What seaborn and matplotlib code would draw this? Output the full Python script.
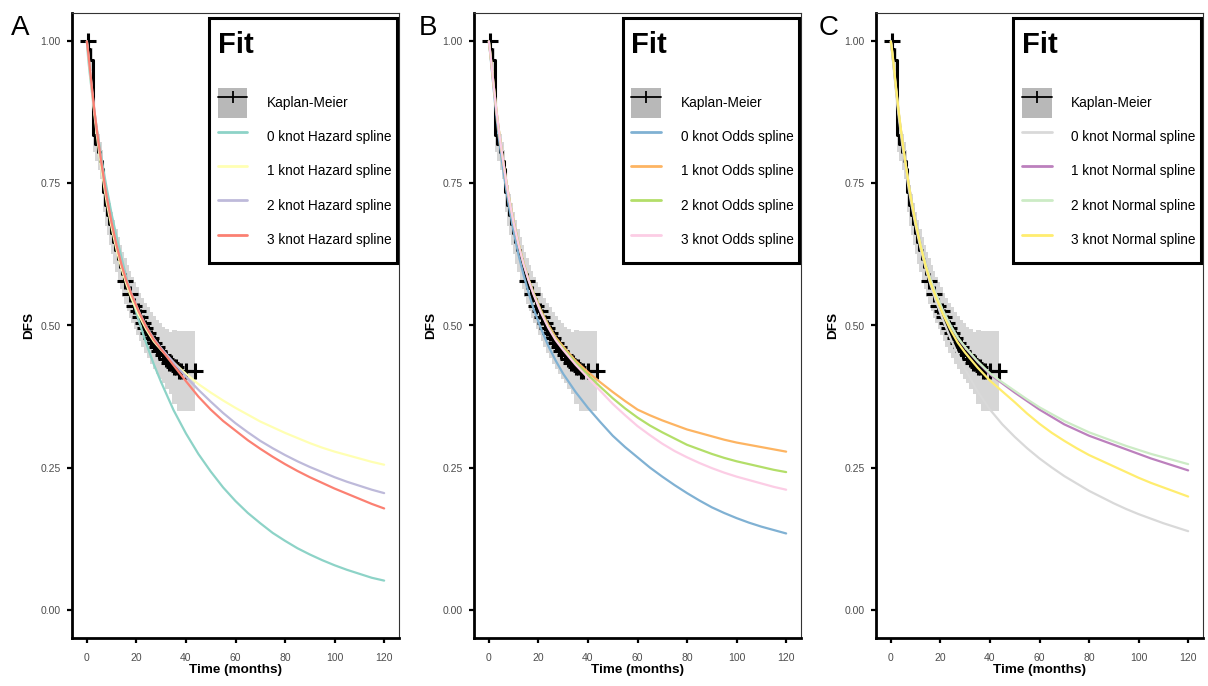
import numpy as np
import pandas as pd
import matplotlib
matplotlib.use("Agg")
import matplotlib.pyplot as plt
from matplotlib.patches import Patch, Rectangle
from matplotlib.lines import Line2D
import seaborn as sns

# Kaplan-Meier estimate (step times, survival, 95% CI)
km_t = [0, 0.6, 1.3, 2.6, 3.4, 4.3, 5.2, 6.0, 6.6, 7.4, 8.2, 9.0, 9.8, 10.6, 11.5, 12.4, 13.3,
        14.2, 15.1, 16.0, 17.0, 18.0, 19.0, 20.0, 21.0, 22.0, 23.1, 24.2, 25.4, 26.6, 27.8,
        29.0, 30.3, 31.6, 33.0, 34.5, 36.5, 43.5]
km_s = [1.0, 0.987, 0.968, 0.835, 0.82, 0.805, 0.79, 0.775, 0.735, 0.712, 0.695, 0.678, 0.662,
        0.647, 0.632, 0.617, 0.603, 0.59, 0.578, 0.566, 0.555, 0.545, 0.535, 0.525, 0.515, 0.505,
        0.496, 0.487, 0.478, 0.47, 0.462, 0.455, 0.448, 0.441, 0.434, 0.427, 0.42, 0.42]
km_lo = [1.0, 0.975, 0.948, 0.805, 0.789, 0.773, 0.757, 0.741, 0.70, 0.676, 0.659, 0.641, 0.625,
         0.609, 0.594, 0.578, 0.564, 0.55, 0.538, 0.526, 0.514, 0.504, 0.493, 0.483, 0.472, 0.462,
         0.452, 0.442, 0.432, 0.423, 0.414, 0.406, 0.398, 0.389, 0.379, 0.362, 0.35, 0.35]
km_hi = [1.0, 0.999, 0.988, 0.865, 0.851, 0.837, 0.823, 0.809, 0.77, 0.748, 0.731, 0.715, 0.699,
         0.685, 0.67, 0.656, 0.642, 0.63, 0.618, 0.606, 0.596, 0.586, 0.577, 0.567, 0.558, 0.548,
         0.54, 0.532, 0.524, 0.517, 0.51, 0.504, 0.498, 0.493, 0.489, 0.492, 0.49, 0.49]
censor_t = [0.3, 15.5, 17.5, 19.2, 20.5, 21.6, 22.6, 23.6, 24.7, 25.9, 27.0, 28.2, 29.3, 30.6,
            31.9, 33.2, 34.0, 35.2, 36.0, 37.2, 38.2, 40.0, 43.5]

# fitted spline survival curves
spline_t = [0, 0.5, 1, 1.5, 2, 3, 4, 5, 6, 7, 8, 10, 12, 14, 16, 18, 21, 24, 27, 30, 35,
            40, 45, 50, 55, 60, 65, 70, 75, 80, 85, 90, 95, 100, 105, 110, 115, 120]

haz0 = [1.0, 0.972, 0.95, 0.931, 0.912, 0.878, 0.847, 0.819, 0.792, 0.766, 0.742, 0.696, 0.656,
        0.619, 0.584, 0.552, 0.508, 0.468, 0.432, 0.400, 0.351,
        0.310, 0.274, 0.243, 0.215, 0.191, 0.170, 0.152, 0.135, 0.121, 0.108, 0.097, 0.087,
        0.078, 0.070, 0.063, 0.056, 0.051]
haz1 = [1.0, 0.98, 0.959, 0.937, 0.915, 0.873, 0.836, 0.803, 0.772, 0.744, 0.717, 0.672, 0.633,
        0.600, 0.572, 0.548, 0.518, 0.493, 0.472, 0.457, 0.435,
        0.415, 0.397, 0.382, 0.368, 0.355, 0.343, 0.331, 0.321, 0.311, 0.302, 0.293, 0.285,
        0.278, 0.272, 0.266, 0.260, 0.255]
haz2 = [1.0, 0.981, 0.961, 0.94, 0.919, 0.879, 0.844, 0.812, 0.782, 0.754, 0.727, 0.681, 0.642,
        0.608, 0.579, 0.556, 0.525, 0.498, 0.477, 0.460, 0.435,
        0.410, 0.387, 0.366, 0.346, 0.328, 0.312, 0.297, 0.284, 0.272, 0.261, 0.251, 0.242,
        0.233, 0.225, 0.218, 0.211, 0.205]
haz3 = [1.0, 0.982, 0.962, 0.941, 0.92, 0.88, 0.845, 0.813, 0.783, 0.754, 0.727, 0.681, 0.641,
        0.607, 0.578, 0.555, 0.524, 0.497, 0.475, 0.458, 0.430,
        0.402, 0.375, 0.352, 0.332, 0.315, 0.298, 0.283, 0.269, 0.256, 0.244, 0.233, 0.223,
        0.213, 0.204, 0.195, 0.186, 0.178]

odds0 = [1.0, 0.98, 0.958, 0.936, 0.913, 0.87, 0.832, 0.798, 0.767, 0.739, 0.712, 0.665, 0.624,
         0.589, 0.558, 0.53, 0.495, 0.464, 0.438, 0.415, 0.383,
         0.355, 0.33, 0.306, 0.286, 0.268, 0.25, 0.234, 0.219, 0.205, 0.192, 0.18, 0.17,
         0.161, 0.153, 0.146, 0.14, 0.134]
odds1 = [1.0, 0.982, 0.962, 0.941, 0.92, 0.88, 0.845, 0.813, 0.783, 0.755, 0.728, 0.683, 0.644,
         0.61, 0.582, 0.558, 0.527, 0.501, 0.479, 0.463, 0.438,
         0.418, 0.4, 0.383, 0.367, 0.352, 0.342, 0.333, 0.325, 0.317, 0.311, 0.305, 0.299,
         0.294, 0.29, 0.286, 0.282, 0.278]
odds2 = [1.0, 0.982, 0.962, 0.941, 0.92, 0.88, 0.845, 0.813, 0.783, 0.755, 0.728, 0.682, 0.643,
         0.609, 0.581, 0.557, 0.525, 0.498, 0.476, 0.46, 0.435,
         0.413, 0.392, 0.372, 0.354, 0.338, 0.324, 0.312, 0.301, 0.29, 0.282, 0.274, 0.267,
         0.261, 0.256, 0.251, 0.246, 0.242]
odds3 = [1.0, 0.982, 0.962, 0.941, 0.92, 0.88, 0.845, 0.813, 0.783, 0.754, 0.727, 0.681, 0.642,
         0.608, 0.58, 0.555, 0.523, 0.496, 0.474, 0.457, 0.431,
         0.408, 0.385, 0.362, 0.342, 0.323, 0.307, 0.292, 0.279, 0.268, 0.258, 0.249, 0.241,
         0.234, 0.228, 0.222, 0.216, 0.211]

norm0 = [1.0, 0.98, 0.959, 0.937, 0.915, 0.874, 0.838, 0.805, 0.774, 0.746, 0.72, 0.675, 0.635,
         0.601, 0.572, 0.545, 0.51, 0.478, 0.449, 0.423, 0.384,
         0.352, 0.326, 0.304, 0.284, 0.266, 0.25, 0.235, 0.222, 0.209, 0.198, 0.187, 0.177,
         0.168, 0.16, 0.152, 0.145, 0.138]
norm1 = [1.0, 0.982, 0.962, 0.941, 0.92, 0.88, 0.845, 0.813, 0.783, 0.755, 0.728, 0.683, 0.644,
         0.61, 0.582, 0.557, 0.526, 0.5, 0.478, 0.461, 0.436,
         0.414, 0.398, 0.382, 0.367, 0.352, 0.339, 0.326, 0.316, 0.306, 0.298, 0.29, 0.282,
         0.274, 0.266, 0.259, 0.252, 0.245]
norm2 = [1.0, 0.982, 0.962, 0.941, 0.92, 0.88, 0.845, 0.813, 0.783, 0.755, 0.728, 0.683, 0.644,
         0.61, 0.582, 0.558, 0.527, 0.501, 0.479, 0.462, 0.437,
         0.416, 0.4, 0.385, 0.37, 0.356, 0.344, 0.332, 0.322, 0.312, 0.304, 0.296, 0.288,
         0.281, 0.274, 0.268, 0.262, 0.256]
norm3 = [1.0, 0.984, 0.965, 0.944, 0.923, 0.883, 0.847, 0.814, 0.783, 0.754, 0.727, 0.68, 0.64,
         0.605, 0.576, 0.552, 0.52, 0.493, 0.47, 0.452, 0.426,
         0.403, 0.384, 0.365, 0.345, 0.327, 0.311, 0.297, 0.284, 0.272, 0.262, 0.252, 0.242,
         0.232, 0.223, 0.215, 0.207, 0.199]

panel_letters = ["A", "B", "C"]
model_names = ["Hazard", "Odds", "Normal"]
panel_series = [[haz0, haz1, haz2, haz3], [odds0, odds1, odds2, odds3], [norm0, norm1, norm2, norm3]]
x_ticks = [0, 20, 40, 60, 80, 100, 120]
y_ticks = [0.0, 0.25, 0.5, 0.75, 1.0]

sns.set_theme(style="white")
plt.rcParams["font.family"] = ["Liberation Sans", "DejaVu Sans"]
plt.rcParams["text.color"] = "black"
plt.rcParams["axes.labelcolor"] = "black"

set3 = sns.color_palette("Set3", 12)

fig = plt.figure(figsize=(12.08, 6.86), dpi=100)
W, H = 1208, 686
ax_left = [72, 474, 876]
letter_x = [11, 419, 819]

km_t_arr = np.array(km_t)
km_s_arr = np.array(km_s)
idx = np.searchsorted(km_t_arr, censor_t, side="right") - 1
censor_s = km_s_arr[idx]

axes, legends = [], []
for i in range(3):
    ax = fig.add_axes([ax_left[i] / W, 1 - 638 / H, 327 / W, 625 / H])

    # KM with confidence band
    ax.fill_between(km_t, km_lo, km_hi, step="post", color="#d6d6d6", lw=0, zorder=1)
    sns.lineplot(x=km_t, y=km_s, drawstyle="steps-post", color="black", lw=2.2,
                 estimator=None, sort=False, ax=ax, zorder=2)
    ax.plot(censor_t, censor_s, "+", color="black", ms=11, mew=2.2, zorder=2)

    cols = set3[i * 4:(i + 1) * 4]
    for k, vals in enumerate(panel_series[i]):
        sns.lineplot(x=spline_t, y=vals, color=cols[k], lw=1.6, estimator=None,
                     ax=ax, zorder=3 + k)

    ax.set_xlim(-6, 126)
    ax.set_ylim(-0.05, 1.05)
    ax.set_xticks(x_ticks)
    ax.set_yticks(y_ticks)
    ax.set_yticklabels([f"{v:.2f}" for v in y_ticks])
    ax.tick_params(axis="both", which="both", length=3.3, width=1.6, color="black",
                   labelsize=7.5, labelcolor="#4d4d4d", left=True, bottom=True)
    ax.tick_params(axis="x", pad=7.7)
    ax.tick_params(axis="y", pad=5)
    for s in ["left", "bottom"]:
        ax.spines[s].set_linewidth(2.0)
        ax.spines[s].set_color("black")
    for s in ["top", "right"]:
        ax.spines[s].set_linewidth(0.8)
        ax.spines[s].set_color("#333333")
    ax.set_xlabel("Time (months)", fontsize=9.7, fontweight="bold", labelpad=0.5)
    ax.set_ylabel("DFS", fontsize=9.7, fontweight="bold", labelpad=4)

    handles = [(Patch(facecolor="#b8b8b8", edgecolor="none"),
                Line2D([], [], color="black", lw=1.3, marker="|", ms=9, mew=1.3))]
    labels = ["Kaplan-Meier"]
    for k in range(4):
        handles.append(Line2D([], [], color=cols[k], lw=2.0))
        labels.append(f"{k} knot {model_names[i]} spline")
    leg = ax.legend(handles, labels, title="Fit\n", loc="upper right",
                    bbox_to_anchor=((400 - 72) / 327, 1 - (23 - 13) / 625), borderaxespad=0,
                    fontsize=9.8, frameon=False, handlelength=2.2, handleheight=3.0,
                    handletextpad=1.45, labelspacing=0.33, borderpad=0.6, alignment="left",
                    labelcolor="black")
    leg.get_title().set_fontsize(21)
    leg.get_title().set_fontweight("bold")
    leg.get_title().set_color("black")
    leg.get_title().set_linespacing(0.82)
    axes.append(ax)
    legends.append(leg)

    fig.text(letter_x[i] / W, 1 - 35 / H, panel_letters[i], fontsize=20, va="baseline",
             ha="left", color="black")

# legend frame: a bit more room above the title and a tighter right side
fig.canvas.draw()
renderer = fig.canvas.get_renderer()
for ax, leg in zip(axes, legends):
    bb = leg.get_window_extent(renderer)
    (x0, y0), (x1, y1) = ax.transAxes.inverted().transform(
        [[bb.x0, bb.y0], [bb.x1 - 3, bb.y1 + 5]])
    ax.add_patch(Rectangle((x0, y0), x1 - x0, y1 - y0, transform=ax.transAxes,
                           facecolor="white", edgecolor="black", lw=2.2,
                           clip_on=False, zorder=4.5))

fig.savefig("out.png", dpi=100)
